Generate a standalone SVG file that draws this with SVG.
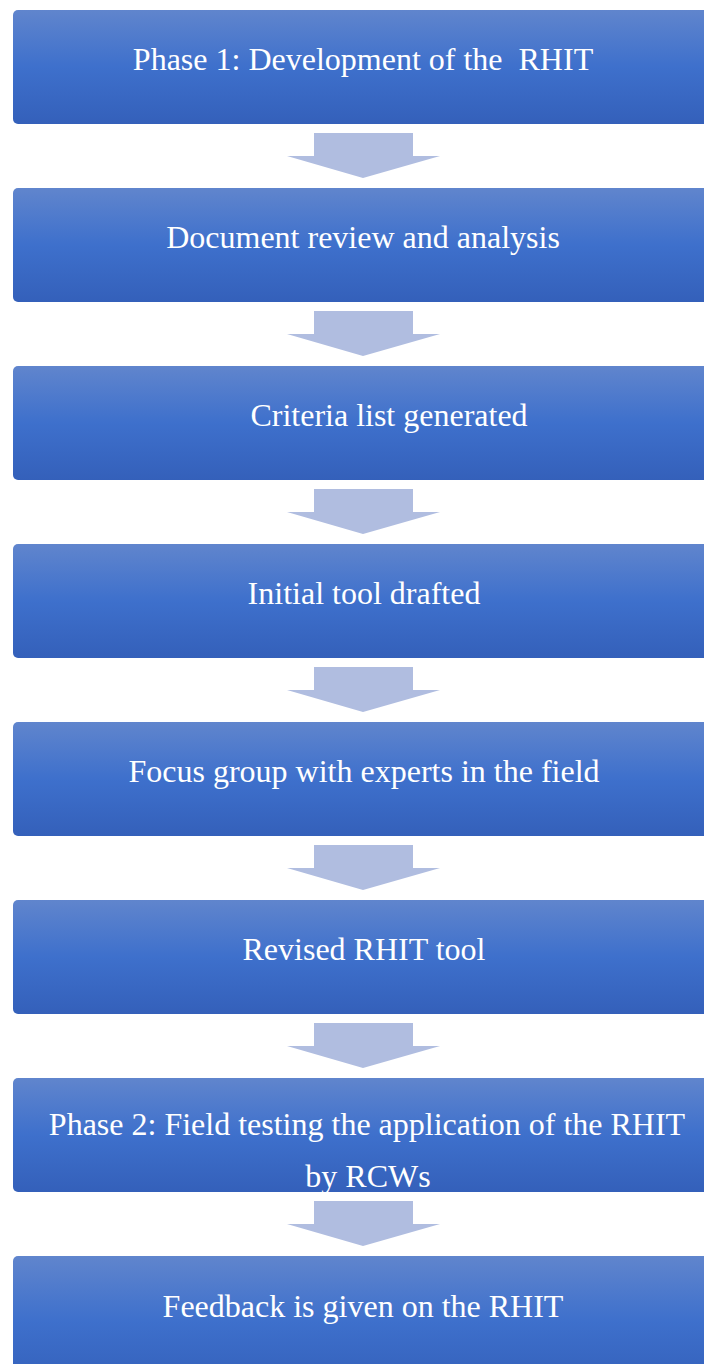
<svg xmlns="http://www.w3.org/2000/svg" width="704" height="1364" viewBox="0 0 704 1364">
<defs>
<linearGradient id="g" x1="0" y1="0" x2="0" y2="1">
<stop offset="0" stop-color="#6085cd"/>
<stop offset="0.5" stop-color="#3e70cc"/>
<stop offset="1" stop-color="#3460ba"/>
</linearGradient>
<style>
.box{fill:url(#g);}
.t{font-family:"Liberation Serif","Times New Roman",serif;font-size:32px;fill:#ffffff;text-anchor:middle;white-space:pre;}
.arr{fill:#b0bde0;}
</style>
</defs>
<g id="connectors">
<polygon class="arr" points="314,133 413,133 413,156 440,156 363,178 287,156 314,156"/>
<polygon class="arr" points="314,311 413,311 413,334 440,334 363,356 287,334 314,334"/>
<polygon class="arr" points="314,489 413,489 413,512 440,512 363,534 287,512 314,512"/>
<polygon class="arr" points="314,667 413,667 413,690 440,690 363,712 287,690 314,690"/>
<polygon class="arr" points="314,845 413,845 413,868 440,868 363,890 287,868 314,868"/>
<polygon class="arr" points="314,1023 413,1023 413,1046 440,1046 363,1068 287,1046 314,1046"/>
<polygon class="arr" points="314,1201 413,1201 413,1224 440,1224 363,1246 287,1224 314,1224"/>
</g>
<g id="n1"><rect class="box" x="13" y="10" width="710" height="114" rx="5"/><text class="t" x="363" y="70" xml:space="preserve">Phase 1: Development of the  RHIT</text></g>
<g id="n2"><rect class="box" x="13" y="188" width="710" height="114" rx="5"/><text class="t" x="363" y="248">Document review and analysis</text></g>
<g id="n3"><rect class="box" x="13" y="366" width="710" height="114" rx="5"/><text class="t" x="389" y="426">Criteria list generated</text></g>
<g id="n4"><rect class="box" x="13" y="544" width="710" height="114" rx="5"/><text class="t" x="364" y="604">Initial tool drafted</text></g>
<g id="n5"><rect class="box" x="13" y="722" width="710" height="114" rx="5"/><text class="t" x="364" y="782">Focus group with experts in the field</text></g>
<g id="n6"><rect class="box" x="13" y="900" width="710" height="114" rx="5"/><text class="t" x="364" y="960">Revised RHIT tool</text></g>
<g id="n7"><rect class="box" x="13" y="1078" width="710" height="114" rx="5"/><text class="t" x="367" y="1135">Phase 2: Field testing the application of the RHIT</text><text class="t" x="368" y="1187">by RCWs</text></g>
<g id="n8"><rect class="box" x="13" y="1256" width="710" height="130" rx="5"/><text class="t" x="363" y="1317">Feedback is given on the RHIT</text></g>
</svg>
